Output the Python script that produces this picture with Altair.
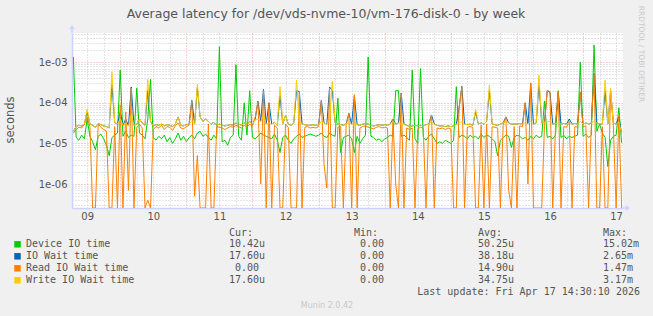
import altair as alt
import pandas as pd

# ---------------- data (values in microseconds, hourly from 2026-04-09 07:00 UTC) -------------
title_text = "Average latency for /dev/vds-nvme-10/vm-176-disk-0 - by week"
series_names = ["Device IO time", "IO Wait time", "Read IO Wait time", "Write IO Wait time"]
series_colors = ["#00CC00", "#0066B3", "#FF8000", "#FFCC00"]
cur_vals = ["10.42u", "17.60u", "0.00", "17.60u"]
min_vals = ["0.00", "0.00", "0.00", "0.00"]
avg_vals = ["50.25u", "38.18u", "14.90u", "34.75u"]
max_vals = ["15.02m", "2.65m", "1.47m", "3.17m"]
col_headers = ["Cur:", "Min:", "Avg:", "Max:"]
last_update = "Last update: Fri Apr 17 14:30:10 2026"
footer = "Munin 2.0.42"
side_text = "RRDTOOL / TOBI OETIKER"
y_title = "seconds"

start_time = "2026-04-09 07:00"

device_us = [
    1350, 14, 12, 16, 13, 40, 15, 11, 7, 15,
    17, 13, 9, 5, 14, 16, 18, 640, 15, 20,
    14, 16, 15, 230, 18, 16, 13, 40, 380, 14,
    12, 15, 13, 16, 11, 14, 10, 13, 18, 12,
    15, 11, 14, 16, 13, 18, 20, 15, 17, 14,
    12, 16, 13, 2400, 11, 12, 9, 14, 16, 870,
    15, 12, 100, 16, 200, 14, 13, 15, 18, 16,
    15, 14, 13, 17, 12, 6, 14, 16, 12, 10,
    13, 15, 17, 14, 15, 16, 17, 16, 15, 16,
    18, 15, 14, 18, 16, 15, 130, 6, 14, 15,
    16, 13, 6, 15, 10, 13, 16, 1350, 15, 14,
    12, 13, 11, 13, 14, 16, 15, 200, 200, 15,
    16, 14, 12, 640, 13, 10, 700, 14, 12, 15,
    17, 13, 10, 11, 10, 12, 11, 10, 12, 250,
    14, 16, 15, 13, 16, 14, 15, 13, 17, 14,
    16, 15, 13, 11, 5, 12, 14, 16, 15, 8,
    14, 16, 15, 13, 14, 12, 15, 13, 16, 14,
    15, 110, 14, 15, 13, 16, 200, 14, 16, 13,
    15, 14, 15, 16, 1000, 15, 17, 14, 16, 2650,
    20, 30, 18, 14, 2.7, 12, 15, 16, 75, 10.42,
]

iowait_us = [
    20, 26, 28, 27, 30, 60, 30, 28, 25, 31,
    29, 27, 26, 24, 300, 32, 30, 60, 28, 40,
    27, 245, 28, 30, 40, 32, 28, 200, 35, 27,
    29, 28, 30, 27, 29, 28, 26, 30, 45, 28,
    27, 29, 30, 115, 30, 240, 45, 35, 40, 35,
    30, 33, 28, 30, 28, 27, 28, 29, 28, 32,
    30, 28, 32, 29, 35, 30, 40, 110, 35, 215,
    30, 100, 30, 33, 28, 150, 30, 50, 30, 28,
    32, 200, 190, 30, 29, 28, 28, 29, 28, 28,
    115, 32, 30, 245, 200, 32, 30, 29, 28, 30,
    55, 30, 150, 29, 28, 30, 31, 30, 28, 27,
    28, 29, 28, 29, 28, 30, 40, 30, 32, 175,
    30, 28, 26, 27, 28, 27, 28, 27, 29, 30,
    50, 30, 28, 27, 27, 26, 27, 26, 27, 30,
    75, 255, 30, 29, 30, 28, 60, 30, 32, 30,
    35, 200, 30, 29, 28, 30, 32, 45, 32, 30,
    30, 30, 31, 30, 100, 30, 300, 30, 32, 300,
    32, 33, 200, 180, 30, 31, 180, 30, 31, 30,
    40, 30, 31, 30, 180, 30, 32, 30, 32, 520,
    32, 30, 30, 200, 30, 200, 32, 30, 45, 17.6,
]

read_us = [
    18, 22, 25, 24, 30, 45, 26, 0, 0, 30,
    25, 22, 20, 0, 0, 26, 0, 90, 0, 60,
    0.7, 230, 0, 25, 30, 24, 0, 0.4, 0, 22,
    26, 24, 28, 22, 26, 25, 21, 27, 32, 24,
    23, 26, 28, 110, 0.5, 5, 0, 0, 0, 30,
    0, 0, 26, 25, 24, 22, 24, 26, 25, 28,
    26, 24, 28, 25, 30, 27, 45, 105, 1, 200,
    0, 100, 0, 28, 24, 0, 0, 30, 25, 0,
    0, 0, 180, 0, 25, 26, 24, 25, 24, 26,
    110, 3, 0.8, 230, 0, 0, 25, 26, 0, 28,
    55, 0, 160, 0, 24, 26, 27, 25, 24, 23,
    25, 26, 24, 25, 24, 0, 40, 1, 0, 170,
    0, 24, 22, 24, 0, 23, 25, 24, 0, 28,
    50, 0, 24, 23, 24, 22, 24, 23, 0, 0,
    75, 240, 0, 25, 26, 25, 0, 0, 28, 0,
    30, 0, 26, 25, 24, 0, 28, 45, 0.7, 0,
    26, 0, 27, 26, 100, 1, 310, 0, 0, 0,
    0, 28, 200, 190, 0, 27, 190, 0, 26, 25,
    35, 0, 26, 25, 180, 26, 27, 0, 28, 500,
    0, 0, 26, 0, 0, 190, 28, 0, 50, 0,
]

write_us = [
    20, 26, 28, 27, 30, 70, 30, 28, 25, 31,
    29, 27, 26, 24, 570, 32, 30, 40, 28, 30,
    27, 50, 28, 30, 40, 32, 28, 380, 35, 27,
    29, 28, 30, 27, 29, 28, 26, 30, 45, 28,
    27, 29, 30, 35, 30, 290, 45, 35, 40, 35,
    30, 33, 28, 30, 28, 27, 28, 29, 28, 32,
    30, 28, 32, 29, 35, 30, 38, 40, 35, 50,
    30, 32, 30, 33, 28, 250, 30, 50, 30, 28,
    32, 360, 35, 30, 29, 28, 28, 29, 28, 28,
    35, 32, 30, 40, 340, 32, 30, 29, 28, 30,
    32, 30, 30, 29, 28, 30, 31, 30, 28, 27,
    28, 29, 28, 29, 28, 30, 35, 30, 32, 30,
    30, 28, 26, 27, 28, 27, 28, 27, 29, 30,
    35, 30, 28, 27, 27, 26, 27, 26, 27, 30,
    32, 35, 30, 29, 30, 28, 70, 30, 32, 30,
    35, 280, 30, 29, 28, 30, 32, 35, 32, 30,
    30, 30, 31, 30, 32, 30, 35, 30, 32, 480,
    32, 33, 35, 34, 30, 31, 32, 30, 31, 30,
    32, 30, 31, 30, 35, 30, 32, 30, 32, 35,
    32, 30, 30, 360, 30, 226, 32, 30, 34, 17.6,
]

# ---------------- build table ----------------
series_data = [device_us, iowait_us, read_us, write_us]
times = pd.date_range(start_time, periods=len(device_us), freq="h")
tstr = [t.strftime("%Y-%m-%dT%H:%M:%SZ") for t in times]
rows = []
for name, vals in zip(series_names, series_data):
    for t, v in zip(tstr, vals):
        rows.append({"t": t, "series": name, "us": v})
df = pd.DataFrame(rows)

W, H = 551, 175
YMIN, YMAX = 2.57e-7, 5.25e-3
AXIS_COLOR = "#CCD2FF"
TXT = "#555555"
FONT = "DejaVu Sans"
MONO = "DejaVu Sans Mono"

xscale = alt.Scale(type="utc", domain=[alt.DateTime(year=2026, month=4, date=9, hours=6, minutes=30, utc=True),
                                        alt.DateTime(year=2026, month=4, date=17, hours=14, minutes=30, utc=True)])
yscale = alt.Scale(type="log", domain=[YMIN, YMAX], nice=False)

def dt(d, h):
    return alt.DateTime(year=2026, month=4, date=d, hours=h, utc=True)

minor_x = [dt(d, h) for d in range(9, 18) for h in (6, 12, 18)
           if not (d == 9 and h == 6) and not (d == 17 and h == 18)]
major_x = [dt(d, 0) for d in range(10, 18)]
noon_x = [dt(d, 12) for d in range(9, 18)]
minor_y = [k * 10.0 ** e for e in range(-7, -2) for k in range(2, 10) if YMIN <= k * 10.0 ** e <= YMAX]
major_y = [1e-6, 1e-5, 1e-4, 1e-3]

base = alt.Chart(df).transform_calculate(v=f"max(datum.us * 1e-6, {YMIN})")

def grid_axis_x(values, color, orient="bottom"):
    return alt.Axis(values=values, grid=True, gridColor=color, gridDash=[1, 2], gridWidth=1,
                    labels=False, ticks=False, domain=False, title=None, orient=orient)

def grid_axis_y(values, color):
    return alt.Axis(values=values, grid=True, gridColor=color, gridDash=[1, 2], gridWidth=1,
                    labels=False, ticks=False, domain=False, title=None, orient="left")

minor_layer = base.mark_line(opacity=0).encode(
    x=alt.X("t:T", scale=xscale, axis=grid_axis_x(minor_x, "#C8C8C8")),
    y=alt.Y("v:Q", scale=yscale, axis=grid_axis_y(minor_y, "#C8C8C8")),
)
major_layer = base.mark_line(opacity=0).encode(
    x=alt.X("t:T", scale=xscale, axis=grid_axis_x(major_x, "#F2A0A0")),
    y=alt.Y("v:Q", scale=yscale, axis=grid_axis_y(major_y, "#F2A0A0")),
)
label_layer = base.mark_line(opacity=0).encode(
    x=alt.X("t:T", scale=xscale, axis=alt.Axis(
        values=noon_x, format="%d", grid=False, ticks=False, domain=True, domainColor=AXIS_COLOR,
        domainWidth=1.5, labelColor=TXT, labelFont=FONT, labelFontSize=10, labelPadding=3,
        labelFlush=False, labelOverlap=False, title=None, orient="bottom")),
    y=alt.Y("v:Q", scale=yscale, axis=alt.Axis(
        values=major_y, labelExpr="'1e-0' + (-round(log(datum.value) / LN10))",
        grid=False, ticks=False, domain=True, domainColor=AXIS_COLOR, domainWidth=1.5,
        labelColor=TXT, labelFont=FONT, labelFontSize=10, labelPadding=5, labelFlush=False,
        labelOverlap=False, title=None, orient="left")),
)

line_layers = []
for name, color in zip(series_names, series_colors):
    line_layers.append(
        base.transform_filter(alt.datum.series == name).mark_line(
            color=color, strokeWidth=1, interpolate="linear", clip=True
        ).encode(
            x=alt.X("t:T", scale=xscale, axis=None),
            y=alt.Y("v:Q", scale=yscale, axis=None),
        )
    )

# ---------------- decorations: arrows, title, legend ----------------
one = pd.DataFrame({"k": [0]})
arrow_up = alt.Chart(one).mark_point(shape="triangle-up", filled=True, size=30, color=AXIS_COLOR,
                                      opacity=1).encode(x=alt.value(0), y=alt.value(-6))
arrow_up_stem = alt.Chart(one).mark_rule(color=AXIS_COLOR, strokeWidth=1.5).encode(
    x=alt.value(0), y=alt.value(-5), y2=alt.value(0))
arrow_right = alt.Chart(one).mark_point(shape="triangle-right", filled=True, size=30, color=AXIS_COLOR,
                                         opacity=1).encode(x=alt.value(W + 5), y=alt.value(H))
arrow_right_stem = alt.Chart(one).mark_rule(color=AXIS_COLOR, strokeWidth=1.5).encode(
    x=alt.value(W), x2=alt.value(W + 4), y=alt.value(H))

title_layer = alt.Chart(pd.DataFrame({"s": [title_text]})).mark_text(
    font=FONT, fontSize=12.5, color=TXT, align="center", baseline="middle"
).encode(text="s:N", x=alt.value(254), y=alt.value(-19))

ytitle_layer = alt.Chart(pd.DataFrame({"s": [y_title]})).mark_text(
    font=FONT, fontSize=11.5, color=TXT, align="center", baseline="middle", angle=270
).encode(text="s:N", x=alt.value(-61), y=alt.value(87))

side_layer = alt.Chart(pd.DataFrame({"s": [side_text]})).mark_text(
    font=FONT, fontSize=7.5, color="#C8C8C8", align="center", baseline="middle", angle=90
).encode(text="s:N", x=alt.value(569), y=alt.value(21))

footer_layer = alt.Chart(pd.DataFrame({"s": [footer]})).mark_text(
    font=FONT, fontSize=8, color="#C8C8C8", align="center", baseline="middle"
).encode(text="s:N", x=alt.value(255), y=alt.value(272.7))

update_layer = alt.Chart(pd.DataFrame({"s": [last_update]})).mark_text(
    font=MONO, fontSize=10, color=TXT, align="right", baseline="middle"
).encode(text="s:N", x=alt.value(568), y=alt.value(259))

# legend table built from the named lists
col_left = [157, 282, 406, 531]
row_y0, row_dy, header_y = 211.3, 12, 199.7
char_w = 6.02
leg_rows = []
for j, h in enumerate(col_headers):
    leg_rows.append({"s": h, "px": col_left[j], "py": header_y})
for i, name in enumerate(series_names):
    y = row_y0 + i * row_dy
    leg_rows.append({"s": name, "px": -46, "py": y})
    for j, val in enumerate([cur_vals[i], min_vals[i], avg_vals[i], max_vals[i]]):
        off = 0 if val[-1].isalpha() else char_w
        leg_rows.append({"s": val, "px": col_left[j] + off, "py": y})
leg_df = pd.DataFrame(leg_rows)

legend_text = alt.Chart(leg_df).mark_text(
    font=MONO, fontSize=10, color=TXT, align="left", baseline="middle"
).encode(
    text="s:N",
    x=alt.X("px:Q", scale=None, axis=None),
    y=alt.Y("py:Q", scale=None, axis=None),
)

sq_df = pd.DataFrame({
    "c": series_colors,
    "px": [-54.5] * len(series_colors),
    "py": [row_y0 + i * row_dy for i in range(len(series_colors))],
})
legend_squares = alt.Chart(sq_df).mark_square(size=42, opacity=1, filled=True).encode(
    x=alt.X("px:Q", scale=None, axis=None),
    y=alt.Y("py:Q", scale=None, axis=None),
    color=alt.Color("c:N", scale=None, legend=None),
)

chart = alt.layer(
    minor_layer, major_layer, label_layer, *line_layers,
    arrow_up_stem, arrow_up, arrow_right_stem, arrow_right,
    title_layer, ytitle_layer, side_layer, footer_layer, update_layer,
    legend_text, legend_squares,
).resolve_axis(
    x="independent", y="independent"
).properties(
    width=W, height=H, background="#F0F0F0",
    padding={"left": 72, "top": 33, "right": 653 - 72 - W, "bottom": 316 - 33 - H},
    autosize=alt.AutoSizeParams(type="none"),
).configure_view(fill="white", stroke=None)

chart.save("out.html", embed_options={"renderer": "svg", "actions": False})
